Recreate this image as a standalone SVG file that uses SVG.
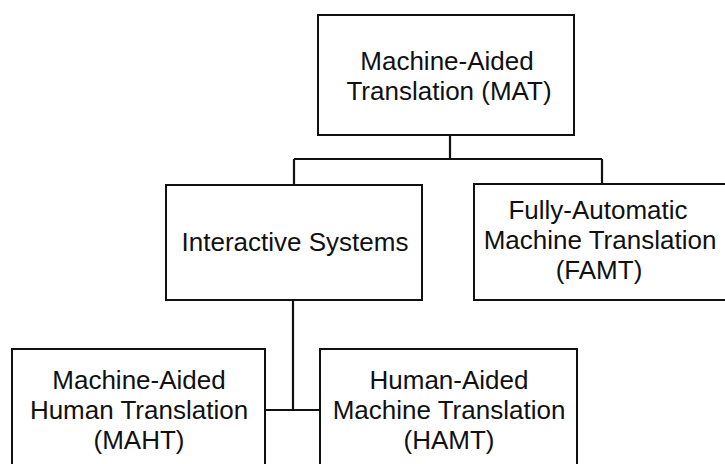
<svg xmlns="http://www.w3.org/2000/svg" width="725" height="464" viewBox="0 0 725 464">
<style>
.box{fill:#fff;stroke:#111;stroke-width:2}
.lbl{font-family:"Liberation Sans",Arial,sans-serif;font-size:26px;fill:#111;text-anchor:middle}
.conn{fill:none;stroke:#111;stroke-width:2.2}
</style>
<rect width="725" height="464" fill="#fff"/>
<g id="connectors">
<path class="conn" d="M450 135 V159 M294 159 H602 M294 159 V185 M602 159 V184"/>
<path class="conn" d="M293 300 V410 M265 410 H320"/>
</g>
<g id="mat">
<rect class="box" x="318" y="15" width="256" height="120"/>
<text class="lbl" x="447" y="69.5">Machine-Aided</text>
<text class="lbl" x="449" y="99.5">Translation (MAT)</text>
</g>
<g id="interactive">
<rect class="box" x="166" y="185" width="256" height="115"/>
<text class="lbl" x="295" y="251">Interactive Systems</text>
</g>
<g id="famt">
<rect class="box" x="474" y="184" width="256" height="116"/>
<text class="lbl" x="598" y="219">Fully-Automatic</text>
<text class="lbl" x="600" y="249">Machine Translation</text>
<text class="lbl" x="599" y="279">(FAMT)</text>
</g>
<g id="maht">
<rect class="box" x="12" y="349" width="253" height="125"/>
<text class="lbl" x="139" y="389">Machine-Aided</text>
<text class="lbl" x="139" y="419">Human Translation</text>
<text class="lbl" x="139" y="449">(MAHT)</text>
</g>
<g id="hamt">
<rect class="box" x="320" y="349" width="257" height="125"/>
<text class="lbl" x="449" y="389">Human-Aided</text>
<text class="lbl" x="449" y="419">Machine Translation</text>
<text class="lbl" x="449" y="449">(HAMT)</text>
</g>
</svg>
